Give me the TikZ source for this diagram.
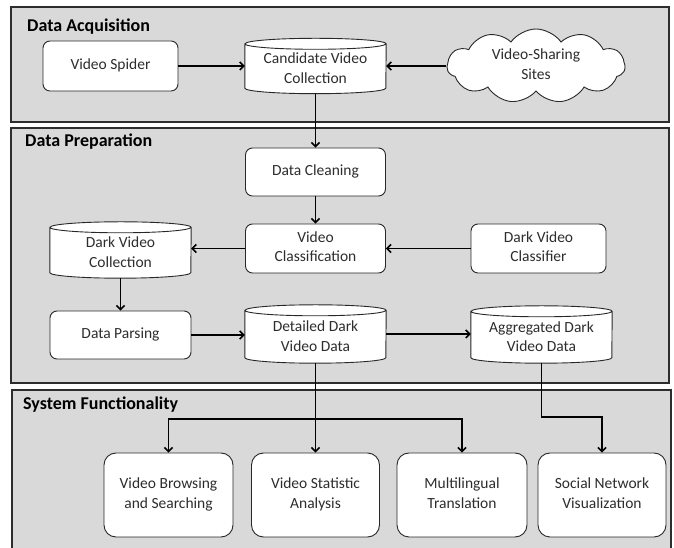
\documentclass[tikz,border=0pt]{standalone}
\usepackage{fontspec}
\setmainfont{Carlito}
\usetikzlibrary{shapes.symbols,arrows.meta,backgrounds,calc}
\definecolor{panelfill}{RGB}{217,217,217}
\definecolor{panelline}{RGB}{45,45,45}
\definecolor{boxline}{RGB}{40,40,40}
\definecolor{txt}{RGB}{45,45,45}
\newcommand\cylshape[1]{%
  \draw[cylline] ($(#1.north west)+(0,-5.5)$) -- ($(#1.south west)+(0,5.5)$)
    arc[start angle=180,end angle=360,x radius=70.5,y radius=5.5]
    -- ($(#1.north east)+(0,-5.5)$)
    arc[start angle=0,end angle=180,x radius=70.5,y radius=5.5] -- cycle
    ($(#1.north west)+(0,-5.5)$)
    arc[start angle=180,end angle=360,x radius=70.5,y radius=5.5];}
\begin{document}
\begin{tikzpicture}[x=1pt,y=1pt,
  panel/.style={fill=panelfill,draw=panelline,line width=1.8pt},
  boxtext/.style={align=center,font=\fontsize{15.5}{19.5}\selectfont,text=txt,
    execute at end node={\rule[-4pt]{0pt}{4pt}}},
  box/.style={rectangle,rounded corners=7pt,draw=boxline,line width=0.9pt,fill=white,boxtext,inner sep=0pt},
  bigbox/.style={box,rounded corners=12pt,minimum height=84},
  cyl/.style={rectangle,inner sep=0pt,minimum width=141,
    label={[boxtext,inner sep=0pt,yshift=-4pt]center:#1}},
  cylline/.style={draw=boxline,line width=0.9pt,fill=white},
  title/.style={anchor=base west,inner sep=0pt,font=\fontsize{18}{20}\selectfont\bfseries},
  conn/.style={line width=1.5pt,-{Straight Barb[length=4pt,width=8pt]}}]
\useasboundingbox (0,0) rectangle (674,548);

% titles
\node[title] (tA) at (27,516) {Data Acquisition};
\node[title] (tB) at (25,401) {Data Preparation};
\node[title] (tC) at (23,138) {System Functionality};

% Data Acquisition
\node[box,minimum width=135,minimum height=50] (spider) at (110.5,482) {Video Spider};
\node[cyl={Candidate Video\\Collection},minimum height=55] (cand) at (315.5,482) {};
\node[cloud,cloud puffs=11,cloud puff arc=110,cloud ignores aspect,minimum width=178,minimum height=74,
      draw=boxline,line width=0.9pt,fill=white,boxtext,inner sep=0pt] (cloud) at (536,482) {Video-Sharing\\Sites};

% Data Preparation
\node[box,minimum width=140,minimum height=48] (clean) at (315.5,376) {Data Cleaning};
\node[box,minimum width=140,minimum height=49] (vclass) at (315.5,299.5) {Video\\Classification};
\node[box,minimum width=135,minimum height=49] (classifier) at (538.5,299.5) {Dark Video\\Classifier};
\node[cyl={Dark Video\\Collection},minimum height=56] (dvc) at (120.5,298) {};
\node[box,minimum width=141,minimum height=48] (parse) at (120.5,213) {Data Parsing};
\node[cyl={Detailed Dark\\Video Data},minimum height=58] (detail) at (315.5,214) {};
\node[cyl={Aggregated Dark\\Video Data},minimum height=57] (agg) at (541.5,213.5) {};

% System Functionality
\node[bigbox,minimum width=129] (browse) at (168.5,53) {Video Browsing\\and Searching};
\node[bigbox,minimum width=128] (stat) at (315.5,53) {Video Statistic\\Analysis};
\node[bigbox,minimum width=130] (multi) at (462,53) {Multilingual\\Translation};
\node[bigbox,minimum width=128] (social) at (602,53) {Social Network\\Visualization};

\begin{scope}[on background layer]
  \draw[panel] (11,426) rectangle (669,541);
  \draw[panel] (11,165) rectangle (669,420);
  \draw[panel] (12,-12) rectangle (671,158);
  \cylshape{cand}
  \cylshape{dvc}
  \cylshape{detail}
  \cylshape{agg}
\end{scope}

% connectors
\draw[conn] (spider.east) -- (spider.east -| cand.west);
\draw[conn] (cloud.west) -- (cloud.west -| cand.east);
\draw[conn] (cand.south) -- (clean.north);
\draw[conn] (clean.south) -- (vclass.north);
\draw[conn] (vclass.west) -- (vclass.west -| dvc.east);
\draw[conn] (classifier.west) -- (vclass.east);
\draw[conn] (dvc.south) -- (parse.north);
\draw[conn] (parse.east) -- (parse.east -| detail.west);
\draw[conn] (detail.east) -- (detail.east -| agg.west);
\draw[conn] (detail.south) -- (stat.north);
\coordinate (bj) at (315.5,129);
\draw[conn] (bj) -| (browse.north);
\draw[conn] (bj) -| (multi.north);
\coordinate (aj) at (541.5,131);
\draw[conn] (agg.south) -- (aj) -| (social.north);
\end{tikzpicture}
\end{document}
